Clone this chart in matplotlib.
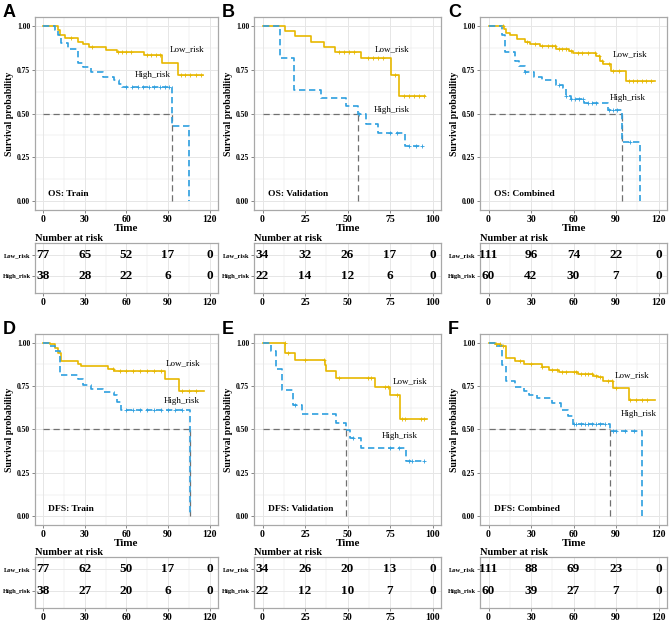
"""Kaplan-Meier curves with number-at-risk tables: OS and DFS for train, validation, combined."""

import matplotlib.pyplot as plt
import numpy as np
from matplotlib.ticker import MultipleLocator

FIG_W, FIG_H = 670, 625
LOW_COLOR = "#E7B800"
HIGH_COLOR = "#2E9FDF"
GRID_COLOR = "#E6E6E6"
FRAME_COLOR = "#A8A8A8"

PANELS = ["A", "B", "C", "D", "E", "F"]
TITLES = ["OS: Train", "OS: Validation", "OS: Combined",
          "DFS: Train", "DFS: Validation", "DFS: Combined"]
X_MAX = [120, 100, 120, 120, 100, 120]
X_STEP = [30, 25, 30, 30, 25, 30]
MEDIANS = [92.6, 56.3, 94.5, 106, 49, 85.5]
GROUPS = ["Low_risk", "High_risk"]

# curve label positions (time, probability)
LOW_LABEL = [(104, 0.864), (76.5, 0.864), (100, 0.836), (101, 0.883), (86.7, 0.775), (101, 0.81)]
HIGH_LABEL = [(79, 0.717), (76, 0.52), (98.6, 0.59), (100, 0.666), (81, 0.46), (106, 0.587)]

# number at risk
A_RISK_LOW = [77, 65, 52, 17, 0]
A_RISK_HIGH = [38, 28, 22, 6, 0]
B_RISK_LOW = [34, 32, 26, 17, 0]
B_RISK_HIGH = [22, 14, 12, 6, 0]
C_RISK_LOW = [111, 96, 74, 22, 0]
C_RISK_HIGH = [60, 42, 30, 7, 0]
D_RISK_LOW = [77, 62, 50, 17, 0]
D_RISK_HIGH = [38, 27, 20, 6, 0]
E_RISK_LOW = [34, 26, 20, 13, 0]
E_RISK_HIGH = [22, 12, 10, 7, 0]
F_RISK_LOW = [111, 88, 69, 23, 0]
F_RISK_HIGH = [60, 39, 27, 7, 0]

# step curves: event times, survival after each event, last follow-up time
A_LOW_T = [10.7, 12, 15.4, 24.9, 28.5, 33.3, 45.1, 53.4, 72.4, 85.5, 96.9]
A_LOW_S = [0.975, 0.95, 0.93, 0.91, 0.895, 0.877, 0.862, 0.85, 0.836, 0.79, 0.72]
A_LOW_END = 115
A_HIGH_T = [8.3, 10.7, 13, 17.8, 24.9, 28.5, 34.4, 42.7, 51, 54.6, 57, 92.6, 105]
A_HIGH_S = [0.975, 0.95, 0.90, 0.87, 0.79, 0.765, 0.735, 0.71, 0.69, 0.67, 0.65, 0.43, 0.0]
A_HIGH_END = 105
A_LOW_CENS = [20, 35, 54, 57, 60, 63, 75, 78, 81, 84, 99, 102, 106, 110, 114]
A_HIGH_CENS = [60, 64, 68, 72, 76, 80, 84, 88, 91]

B_LOW_T = [13.1, 19, 28.4, 36.3, 42.5, 58.2, 75.5, 80.2]
B_LOW_S = [0.97, 0.94, 0.91, 0.88, 0.85, 0.815, 0.72, 0.60]
B_LOW_END = 95.5
B_HIGH_T = [10.2, 18.6, 34.7, 49.4, 56.3, 61, 68, 83.7]
B_HIGH_S = [0.817, 0.636, 0.589, 0.543, 0.50, 0.443, 0.39, 0.317]
B_HIGH_END = 94.5
B_LOW_CENS = [45, 48, 51, 54, 62, 65, 68, 71, 78, 83, 86, 89, 92, 95]
B_HIGH_CENS = [57, 75, 79, 86, 90, 94]

C_LOW_T = [10.7, 12.5, 15.4, 20, 26, 29.5, 36.6, 47.3, 57, 59.4, 76, 78.4, 80.8, 86.7, 97.4]
C_LOW_S = [0.98, 0.96, 0.95, 0.925, 0.91, 0.896, 0.883, 0.868, 0.855, 0.843, 0.83, 0.80,
           0.78, 0.745, 0.685]
C_LOW_END = 117.5
C_HIGH_T = [9.5, 11.9, 19, 21.4, 26, 32, 38, 47.5, 52.3, 54.6, 58, 67.7, 84.3, 94.5, 106.9]
C_HIGH_S = [0.95, 0.85, 0.80, 0.77, 0.735, 0.71, 0.69, 0.665, 0.645, 0.60, 0.58, 0.557,
            0.52, 0.34, 0.0]
C_HIGH_END = 106.9
C_LOW_CENS = [10, 27, 33, 38, 42, 45, 47, 50, 52, 55, 58, 63, 66, 70, 75, 78, 80, 85, 88,
              92, 99, 102, 105, 108, 111, 115]
C_HIGH_CENS = [26, 50, 55, 58, 61, 64, 67, 70, 73, 76, 85, 88, 91, 100]

D_LOW_T = [4.75, 8.3, 10.7, 13, 24.9, 27.3, 46.3, 51, 87.6, 98]
D_LOW_S = [0.99, 0.97, 0.94, 0.895, 0.88, 0.866, 0.85, 0.835, 0.79, 0.72]
D_LOW_END = 115.7
D_HIGH_T = [4.75, 8.3, 11.9, 24.9, 28.5, 34.4, 42.7, 51, 53.4, 56, 106]
D_HIGH_S = [0.98, 0.95, 0.815, 0.79, 0.755, 0.735, 0.715, 0.70, 0.66, 0.61, 0.0]
D_HIGH_END = 106
D_LOW_CENS = [50, 55, 60, 65, 70, 75, 80, 85, 100, 105, 110]
D_HIGH_CENS = [60, 65, 70, 75, 80, 85, 90, 95, 100]

E_LOW_T = [13.1, 19.4, 36.7, 37.6, 43, 66, 75, 80.8]
E_LOW_S = [0.94, 0.903, 0.869, 0.835, 0.794, 0.747, 0.697, 0.56]
E_LOW_END = 96.5
E_HIGH_T = [4.9, 8, 11.2, 18, 23, 43.5, 49, 51.4, 58.2, 84.7]
E_HIGH_S = [0.95, 0.85, 0.728, 0.64, 0.588, 0.54, 0.495, 0.451, 0.391, 0.316]
E_HIGH_END = 95
E_LOW_CENS = [13, 15, 25, 36, 45, 62, 64, 72, 74, 79, 82, 84, 93, 95]
E_HIGH_CENS = [19, 53, 75, 80, 86, 88, 95]

F_LOW_T = [4.75, 8.3, 12, 19, 25, 38, 42.7, 50, 63, 73.6, 77, 81, 88, 99]
F_LOW_S = [0.99, 0.98, 0.91, 0.895, 0.88, 0.86, 0.845, 0.83, 0.82, 0.81, 0.80, 0.78,
           0.74, 0.672]
F_LOW_END = 117.5
F_HIGH_T = [4.75, 9.5, 12, 19, 25, 28.5, 34.4, 45, 51, 56, 59.4, 85.5, 108]
F_HIGH_S = [0.98, 0.87, 0.782, 0.745, 0.72, 0.70, 0.68, 0.655, 0.61, 0.58, 0.532, 0.49, 0.0]
F_HIGH_END = 108
F_LOW_CENS = [5, 8, 10, 22, 30, 38, 45, 48, 52, 55, 60, 62, 65, 68, 70, 73, 76, 79, 84, 87,
              90, 100, 104, 108, 112]
F_HIGH_CENS = [60, 62, 65, 68, 70, 73, 76, 79, 82, 88, 90, 96, 103]

CURVES = {
    "A": ((A_LOW_T, A_LOW_S, A_LOW_END, A_LOW_CENS), (A_HIGH_T, A_HIGH_S, A_HIGH_END, A_HIGH_CENS)),
    "B": ((B_LOW_T, B_LOW_S, B_LOW_END, B_LOW_CENS), (B_HIGH_T, B_HIGH_S, B_HIGH_END, B_HIGH_CENS)),
    "C": ((C_LOW_T, C_LOW_S, C_LOW_END, C_LOW_CENS), (C_HIGH_T, C_HIGH_S, C_HIGH_END, C_HIGH_CENS)),
    "D": ((D_LOW_T, D_LOW_S, D_LOW_END, D_LOW_CENS), (D_HIGH_T, D_HIGH_S, D_HIGH_END, D_HIGH_CENS)),
    "E": ((E_LOW_T, E_LOW_S, E_LOW_END, E_LOW_CENS), (E_HIGH_T, E_HIGH_S, E_HIGH_END, E_HIGH_CENS)),
    "F": ((F_LOW_T, F_LOW_S, F_LOW_END, F_LOW_CENS), (F_HIGH_T, F_HIGH_S, F_HIGH_END, F_HIGH_CENS)),
}
RISKS = {
    "A": (A_RISK_LOW, A_RISK_HIGH), "B": (B_RISK_LOW, B_RISK_HIGH),
    "C": (C_RISK_LOW, C_RISK_HIGH), "D": (D_RISK_LOW, D_RISK_HIGH),
    "E": (E_RISK_LOW, E_RISK_HIGH), "F": (F_RISK_LOW, F_RISK_HIGH),
}

# layout in pixels
COLS = [(35, 218), (254, 441), (480, 667)]
ROWS = [((17, 210), (243, 293)), ((334, 525), (557, 608))]


def px_rect(left, right, top, bottom):
    """Convert a pixel box to a figure-fraction rect."""
    return [left / FIG_W, 1 - bottom / FIG_H, (right - left) / FIG_W, (bottom - top) / FIG_H]


def style_axes(ax, xmax, xstep):
    """ggplot-like light theme."""
    pad = xmax * 0.05
    ax.set_xlim(-pad, xmax + pad)
    ax.xaxis.set_major_locator(MultipleLocator(xstep))
    ax.xaxis.set_minor_locator(MultipleLocator(xstep / 2))
    ax.grid(which="major", color=GRID_COLOR, lw=0.7)
    ax.grid(which="minor", color=GRID_COLOR, lw=0.35)
    ax.set_axisbelow(True)
    for spine in ax.spines.values():
        spine.set_color(FRAME_COLOR)
        spine.set_linewidth(0.9)
    ax.tick_params(which="major", length=2, width=0.5, color="#555555", pad=1.5)
    ax.tick_params(which="minor", length=0)
    ax.tick_params(axis="x", labelsize=7)


def step_line(times, surv, end):
    """Full step coordinates starting at (0, 1)."""
    t = np.concatenate([[0.0], times])
    s = np.concatenate([[1.0], surv])
    if end > t[-1]:
        t = np.append(t, end)
        s = np.append(s, s[-1])
    return t, s


def surv_at(times, surv, when):
    idx = np.searchsorted(np.asarray(times), np.asarray(when), side="right")
    return np.concatenate([[1.0], surv])[idx]


def draw_panel(fig, i):
    letter = PANELS[i]
    row, col = divmod(i, 3)
    left, right = COLS[col]
    (ptop, pbot), (ttop, tbot) = ROWS[row]
    xmax, xstep = X_MAX[i], X_STEP[i]

    ax = fig.add_axes(px_rect(left, right, ptop, pbot))
    style_axes(ax, xmax, xstep)
    ax.set_ylim(-0.05, 1.05)
    ax.yaxis.set_major_locator(MultipleLocator(0.25))
    ax.yaxis.set_minor_locator(MultipleLocator(0.125))
    ax.yaxis.set_major_formatter(lambda v, _: f"{v:.2f}")
    ax.tick_params(axis="y", labelsize=5.5)

    med = MEDIANS[i]
    ax.plot([0, med], [0.5, 0.5], color="#707070", lw=0.9, dashes=(5, 3), zorder=2)
    ax.plot([med, med], [0, 0.5], color="#707070", lw=0.9, dashes=(5, 3), zorder=2)

    low, high = CURVES[letter]
    for (times, surv, end, cens), color, dashed in ((low, LOW_COLOR, False), (high, HIGH_COLOR, True)):
        t, s = step_line(times, surv, end)
        kw = dict(dashes=(3.8, 2.2)) if dashed else {}
        ax.step(t, s, where="post", color=color, lw=1.2, zorder=3, **kw)
        ax.plot(cens, surv_at(times, surv, cens), ls="none", marker="+", ms=3.5,
                mew=0.6, color=color, zorder=4)

    ax.text(*LOW_LABEL[i], GROUPS[0], fontsize=6.5, fontweight="normal", ha="center", va="center")
    ax.text(*HIGH_LABEL[i], GROUPS[1], fontsize=6.5, fontweight="normal", ha="center", va="center")
    ax.text(xmax * 0.03, 0.04, TITLES[i], fontsize=6.8, fontweight="bold", ha="left", va="center")

    ax.set_xlabel("Time", fontsize=8, fontweight="bold", labelpad=0)
    ax.set_ylabel("Survival probability", fontsize=7, fontweight="bold", labelpad=2)

    # risk table
    tab = fig.add_axes(px_rect(left, right, ttop, tbot))
    style_axes(tab, xmax, xstep)
    tab.set_ylim(0.2, 2.57)
    tab.set_yticks([2, 1], GROUPS)
    tab.tick_params(axis="y", labelsize=4.7, pad=1)
    ticks = np.arange(0, xmax + 1, xstep)
    risk_low, risk_high = RISKS[letter]
    for x, n_low, n_high in zip(ticks, risk_low, risk_high):
        tab.text(x, 2, str(n_low), fontsize=9.5, fontweight="bold", ha="center", va="center")
        tab.text(x, 1, str(n_high), fontsize=9.5, fontweight="bold", ha="center", va="center")
    tab.set_title("Number at risk", loc="left", fontsize=7.5, fontweight="bold", pad=1.5)

    fig.text((left - 32) / FIG_W, 1 - (ptop - 13) / FIG_H, letter, fontsize=13,
             fontweight="bold", family="Liberation Sans", ha="left", va="top")


def main():
    """Plot figure."""
    plt.rcParams.update({
        "font.family": "Liberation Serif",
        "font.weight": "bold",
    })
    fig = plt.figure(figsize=(FIG_W / 100, FIG_H / 100), dpi=100)
    for i in range(len(PANELS)):
        draw_panel(fig, i)
    fig.savefig("out.png", dpi=100)


if __name__ == "__main__":
    main()
